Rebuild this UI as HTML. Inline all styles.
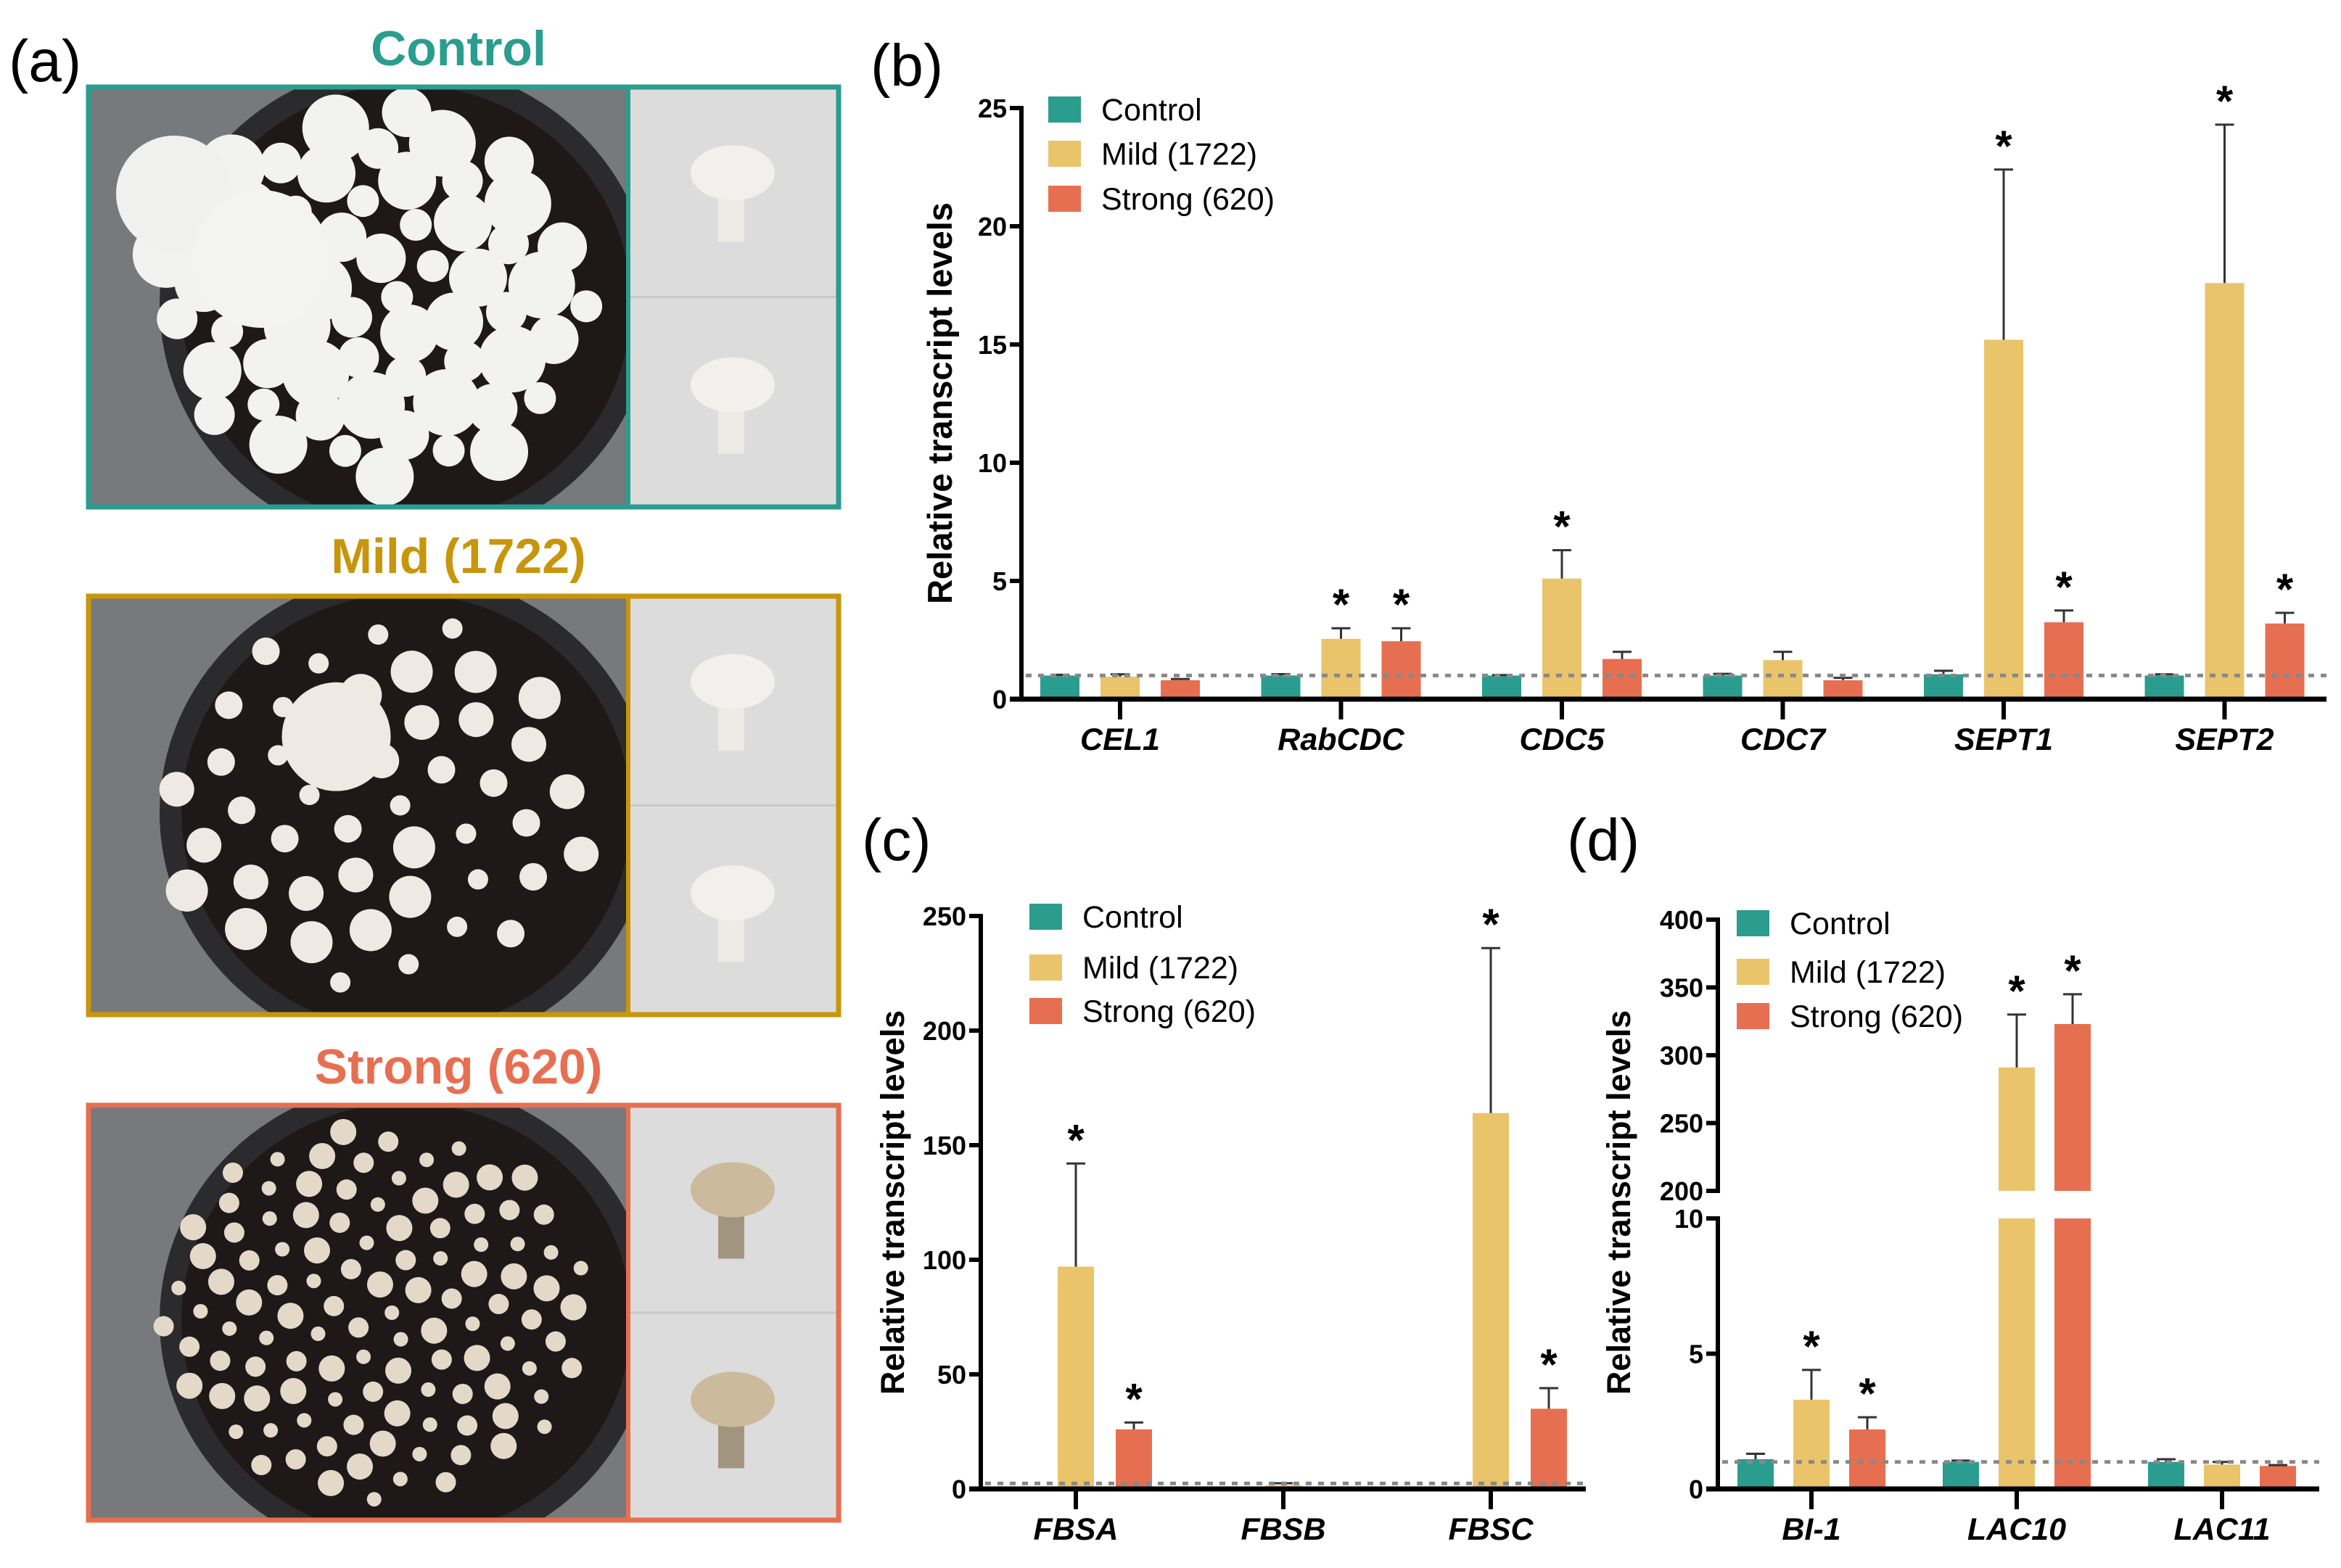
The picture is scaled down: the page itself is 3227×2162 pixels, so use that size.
<!DOCTYPE html>
<html><head><meta charset="utf-8">
<style>
html,body{margin:0;padding:0;background:#fff;}
svg{display:block;font-family:"Liberation Sans",sans-serif;}
</style></head>
<body>
<svg id="fig" width="3227" height="2162" viewBox="0 0 3227 2162" xmlns="http://www.w3.org/2000/svg">
<defs id="defs"></defs>
<g id="panelA">
  <text x="12" y="112" font-size="82">(a)</text>
  <text x="632" y="90" font-size="68" font-weight="bold" fill="#2a9d8f" text-anchor="middle">Control</text>
  <text x="632" y="790" font-size="68" font-weight="bold" fill="#c8960c" text-anchor="middle">Mild (1722)</text>
  <text x="632" y="1494" font-size="68" font-weight="bold" fill="#e76f51" text-anchor="middle">Strong (620)</text>
</g>
<g id="chartB"></g>
<g id="chartC"></g>
<g id="chartD"></g>
</svg>
<script>
// ---------- chart data ----------
const seriesNames = ["Control", "Mild (1722)", "Strong (620)"];
const bGenes = ["CEL1","RabCDC","CDC5","CDC7","SEPT1","SEPT2"];
const bControl = [1.0,1.0,1.0,1.0,1.05,1.0];
const bControlErr = [1.03,1.06,1.02,1.07,1.2,1.05];
const bMild = [0.95,2.55,5.1,1.65,15.2,17.6];
const bMildErr = [1.05,3.0,6.3,2.0,22.4,24.3];
const bStrong = [0.8,2.45,1.7,0.8,3.25,3.2];
const bStrongErr = [0.85,3.0,2.0,0.9,3.75,3.65];
const bStars = [[0,0,0],[0,1,1],[0,1,0],[0,0,0],[0,1,1],[0,1,1]];
const bTicks = [0,5,10,15,20,25];

const cGenes = ["FBSA","FBSB","FBSC"];
const cControl = [0.5,0.5,0.5];
const cControlErr = [0.6,0.6,0.6];
const cMild = [97,1.5,164];
const cMildErr = [142,2.5,236];
const cStrong = [26,0.3,35];
const cStrongErr = [29,0.4,44];
const cStars = [[0,1,1],[0,0,0],[0,1,1]];
const cTicks = [0,50,100,150,200,250];

const dGenes = ["BI-1","LAC10","LAC11"];
const dControl = [1.1,1.0,1.0];
const dControlErr = [1.3,1.05,1.1];
const dMild = [3.3,291,0.9];
const dMildErr = [4.4,330,1.0];
const dStrong = [2.2,323,0.85];
const dStrongErr = [2.65,345,0.88];
const dStars = [[0,1,1],[0,1,1],[0,0,0]];
const dTicksLow = [0,5,10];
const dTicksHigh = [200,250,300,350,400];

const colors = ["#2a9d8f","#e9c46a","#e76f51"];
const NS = "http://www.w3.org/2000/svg";
function mk(parent, tag, attrs, text){
  const e = document.createElementNS(NS, tag);
  for (const k in attrs) e.setAttribute(k, attrs[k]);
  if (text !== undefined) e.textContent = text;
  parent.appendChild(e);
  return e;
}

// ---------- photos (decorative) ----------
(function(){
  const g = document.getElementById('panelA');
  const defs = document.getElementById('defs');
  const boxes = [[117,702,"#2a9d8f",0],[819,1402,"#c8960c",1],[1521,2099,"#e76f51",2]];
  boxes.forEach(([y0,y1,col,idx])=>{
    const h = y1-y0;
    const cp = mk(defs,'clipPath',{id:'clip'+idx});
    mk(cp,'rect',{x:122,y:y0+3,width:744,height:h-6});
    const pg = mk(g,'g',{'clip-path':'url(#clip'+idx+')'});
    let r = mk(pg,'rect',{x:122,y:y0+3,width:744,height:h-6,fill:'#77797c'});
    
    
    mk(pg,'ellipse',{cx:560,cy:y0+h/2+10,rx:340,ry:h/2+40,fill:'#2b2b2d'});
    mk(pg,'ellipse',{cx:560,cy:y0+h/2+10,rx:310,ry:h/2+10,fill:'#1e1918'});
    const n = idx===0?60:(idx===1?45:110);
    for(let i=0;i<n;i++){
      const t = i*2.39996;
      const rr = Math.sqrt((i+0.5)/n);
      const cx = 520 + Math.cos(t)*rr*300;
      const cy = y0+h/2 + Math.sin(t)*rr*(h/2-30);
      let rad = idx===0?(22+ (i%5)*6):(idx===1?(14+(i%4)*5):(10+(i%3)*4));
      if(idx===1 && i===7) rad=75;
      mk(pg,'circle',{cx:cx,cy:cy,r:rad,fill:idx===0?'#f2f2f0':(idx===1?'#eeeae3':'#e4d8c8')});
    }
    if(idx===0){ mk(pg,'circle',{cx:240,cy:y0+150,r:80,fill:'#f0f0ee'}); mk(pg,'circle',{cx:360,cy:y0+240,r:95,fill:'#f3f3f1'}); }
    const rp = mk(g,'rect',{x:866,y:y0+3,width:290,height:h-6,fill:'#dcdcdc'});
    
    
    mk(g,'line',{x1:866,y1:y0+h/2,x2:1156,y2:y0+h/2,stroke:'#c9c9c9','stroke-width':3});
    [0,1].forEach(k=>{
      const my = y0 + k*h/2 + h/4;
      const capCol = idx===2?'#cbbb9c':'#f1f0ec';
      mk(g,'rect',{x:990,y:my-10,width:36,height:80,fill:idx===2?'#a29580':'#ecebe5'});
      mk(g,'ellipse',{cx:1010,cy:my-25,rx:58,ry:38,fill:capCol});
    });
    mk(g,'rect',{x:122,y:y0+3,width:1034,height:h-6,fill:'none',stroke:col,'stroke-width':7});
    mk(g,'line',{x1:866,y1:y0,x2:866,y2:y1,stroke:col,'stroke-width':6});
  });
  g.querySelectorAll(':scope > text').forEach(t=>g.appendChild(t));
})();

// ---------- chart drawing ----------
function drawChart(cfg){
  const g = document.getElementById(cfg.id);
  const s = [[cfg.c,cfg.ce],[cfg.m,cfg.me],[cfg.st,cfg.ste]];
  let pl = mk(g,'text',{x:cfg.labelX,y:cfg.labelY,'font-size':82},cfg.label);
  
  
  let yt = mk(g,'text',{x:0,y:0,'font-size':cfg.ytSize,'font-weight':'bold','text-anchor':'middle',transform:`translate(${cfg.ytX},${cfg.ytY}) rotate(-90)`},"Relative transcript levels");
  
  
  cfg.genes.forEach((gene,i)=>{
    const cx = cfg.x0 + i*cfg.gap;
    for(let k=0;k<3;k++){
      const bx = cx + (k-1)*cfg.off - cfg.bw/2;
      const v = s[k][0][i], e = s[k][1][i];
      const segs = cfg.segs ? cfg.segs(v) : [[cfg.y(0), cfg.y(v)]];
      segs.forEach(([yb,yt2])=>{
        const b = mk(g,'rect',{x:bx,y:yt2,width:cfg.bw,height:Math.max(0,yb-yt2),fill:colors[k]});
        
        
      });
      const ye = cfg.y(e), yv = cfg.y(v);
      const eb = mk(g,'path',{d:`M${bx+cfg.bw/2},${yv}V${ye}M${bx+cfg.bw/2-13},${ye}H${bx+cfg.bw/2+13}`,stroke:'#333',fill:'none','stroke-width':3});
      
      
      if(cfg.stars[i][k]){
        const st = mk(g,'text',{x:bx+cfg.bw/2,y:ye-12,'font-size':60,'font-weight':'bold','text-anchor':'middle'},"*");
        
        
      }
    }
    const tk = mk(g,'line',{x1:cx,y1:cfg.y(0)+3,x2:cx,y2:cfg.y(0)+28,stroke:'#000','stroke-width':6});
    
    
    const lb = mk(g,'text',{x:cx,y:cfg.y(0)+70,'font-size':43,'font-weight':'bold','font-style':'italic','text-anchor':'middle'},gene);
    
    
  });
  const rl = mk(g,'line',{x1:cfg.axX+6,y1:cfg.y(cfg.ref),x2:cfg.axEnd,y2:cfg.y(cfg.ref),stroke:'#888','stroke-width':5,'stroke-dasharray':'8 9'});
  
  
  const xa = mk(g,'line',{x1:cfg.axX-16,y1:cfg.y(0),x2:cfg.axEnd,y2:cfg.y(0),stroke:'#000','stroke-width':7});
  
  
  (cfg.axSegs || [[cfg.y(0),cfg.y(cfg.ticks[cfg.ticks.length-1])]]).forEach(([a,b])=>{
    const ya = mk(g,'line',{x1:cfg.axX,y1:a+3,x2:cfg.axX,y2:b-3,stroke:'#000','stroke-width':6});
    
    
  });
  cfg.ticks.forEach(t=>{
    const yy = cfg.y(t);
    mk(g,'line',{x1:cfg.axX-16,y1:yy,x2:cfg.axX,y2:yy,stroke:'#000','stroke-width':6});
    const tl = mk(g,'text',{x:cfg.axX-20,y:yy+13,'font-size':36,'font-weight':'bold','text-anchor':'end'},String(t));
    
    
  });
  cfg.legY.forEach((ly,k)=>{
    const sw = mk(g,'rect',{x:cfg.legX,y:ly-18,width:45,height:36,fill:colors[k]});
    
    
    const lt = mk(g,'text',{x:cfg.legX+73,y:ly+15,'font-size':43},seriesNames[k]);
    
    
  });
}

const bY0=964, bPx=(964-149)/25;
drawChart({id:'chartB',label:'(b)',labelX:1200,labelY:118,ytX:1312,ytY:556,ytSize:47,
  genes:bGenes,c:bControl,ce:bControlErr,m:bMild,me:bMildErr,st:bStrong,ste:bStrongErr,stars:bStars,
  ticks:bTicks,y:v=>bY0-v*bPx,x0:1544,gap:304.5,off:83,bw:54,axX:1408,axEnd:3207,ref:1,
  legX:1445,legY:[151,212,274]});
const cY0=2053, cPx=(2053-1263)/250;
drawChart({id:'chartC',label:'(c)',labelX:1188,labelY:1186,ytX:1246,ytY:1658,ytSize:45,
  genes:cGenes,c:cControl,ce:cControlErr,m:cMild,me:cMildErr,st:cStrong,ste:cStrongErr,stars:cStars,
  ticks:cTicks,y:v=>cY0-v*cPx,x0:1483,gap:286,off:80,bw:50,axX:1352,axEnd:2186,ref:2.4,
  legX:1419,legY:[1264,1334,1394]});
const dY0=2053, dLowTop=1680, dHighBot=1642, dHighTop=1268;
function dy(v){
  if(v<=10) return dY0 - v*(dY0-dLowTop)/10;
  if(v<200) return dLowTop - (v-10)*(dLowTop-dHighBot)/190;
  return dHighBot - (v-200)*(dHighBot-dHighTop)/200;
}
drawChart({id:'chartD',label:'(d)',labelX:2160,labelY:1186,ytX:2247,ytY:1658,ytSize:45,
  genes:dGenes,c:dControl,ce:dControlErr,m:dMild,me:dMildErr,st:dStrong,ste:dStrongErr,stars:dStars,
  ticks:dTicksLow.concat(dTicksHigh),y:dy,x0:2497,gap:283,off:77,bw:50,axX:2368,axEnd:3197,ref:1,
  legX:2394,legY:[1273,1340,1401],
  segs:v=> v>10 ? [[dY0,dLowTop],[dHighBot,dy(v)]] : [[dY0,dy(v)]],
  axSegs:[[dY0,dLowTop],[dHighBot,dHighTop]]});
</script>
</body></html>
